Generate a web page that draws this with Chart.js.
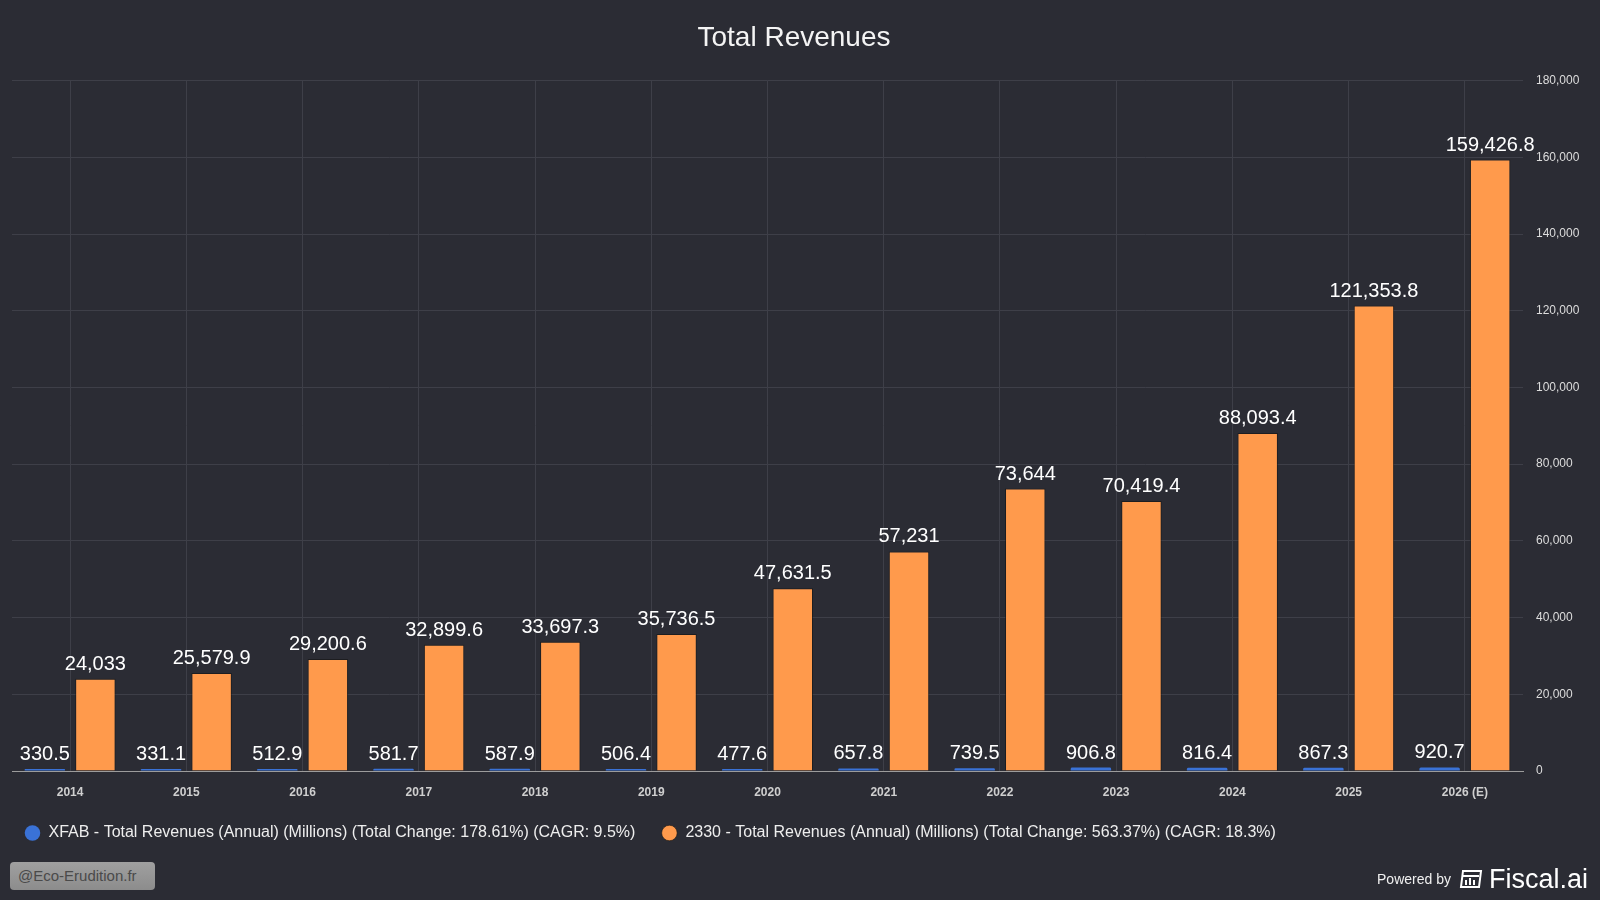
<!DOCTYPE html>
<html>
<head>
<meta charset="utf-8">
<script src="https://cdn.jsdelivr.net/npm/chart.js@4.4.1/dist/chart.umd.min.js"></script>
<style>
  html, body { margin: 0; padding: 0; background: #2b2c34; }
  #wrap { position: relative; width: 1600px; height: 900px; overflow: hidden; background: #2b2c34; font-family: "Liberation Sans", Arial, sans-serif; }
  #c { position: absolute; left: 0; top: 0; }
  #wm { position: absolute; left: 10px; top: 862px; width: 145px; height: 28px; border-radius: 4px;
        background: linear-gradient(#a0a0a0, #8c8c8c); color: #4a4a4a; font-size: 15px; line-height: 28px;
        padding-left: 8px; box-sizing: border-box; }
  #pw { position: absolute; right: 12px; top: 862px; height: 34px; display: flex; align-items: center; color: #f0f0f0; }
  #pw .p { font-size: 14px; margin-right: 8px; }
  #pw .f { font-size: 27px; color: #fff; margin-left: 6px; }
</style>
</head>
<body>
<div id="wrap">
  <canvas id="c" width="1600" height="900"></canvas>
  <div id="wm">@Eco-Erudition.fr</div>
  <div id="pw"><span class="p">Powered by</span>
    <svg width="24" height="20" viewBox="0 0 24 20"><path d="M4 2 H22 L20 18 H2 Z" fill="none" stroke="#fff" stroke-width="2"/><path d="M4 7 H20" stroke="#fff" stroke-width="2"/><path d="M7 11 V16 M11 9 V16 M15 11 V16" stroke="#fff" stroke-width="2"/></svg>
    <span class="f">Fiscal.ai</span></div>
</div>
<script>
const categories = ["2014","2015","2016","2017","2018","2019","2020","2021","2022","2023","2024","2025","2026 (E)"];
const xfabValues = [330.5, 331.1, 512.9, 581.7, 587.9, 506.4, 477.6, 657.8, 739.5, 906.8, 816.4, 867.3, 920.7];
const tsmcValues = [24033, 25579.9, 29200.6, 32899.6, 33697.3, 35736.5, 47631.5, 57231, 73644, 70419.4, 88093.4, 121353.8, 159426.8];
const seriesNames = [
  "XFAB - Total Revenues (Annual) (Millions) (Total Change: 178.61%) (CAGR: 9.5%)",
  "2330 - Total Revenues (Annual) (Millions) (Total Change: 563.37%) (CAGR: 18.3%)"
];
const yMin = 0, yMax = 180000, yStep = 20000;

const FONT = "'Liberation Sans', Arial, sans-serif";
const fmt = v => v.toLocaleString('en-US', {maximumFractionDigits: 1});

const valueLabels = {
  id: 'valueLabels',
  afterDatasetsDraw(chart) {
    const ctx = chart.ctx;
    ctx.save();
    ctx.font = "20px " + FONT;
    ctx.fillStyle = '#ffffff';
    ctx.textAlign = 'center';
    ctx.textBaseline = 'alphabetic';
    chart.data.datasets.forEach((ds, di) => {
      const meta = chart.getDatasetMeta(di);
      meta.data.forEach((el, i) => {
        ctx.fillText(fmt(ds.data[i]), el.x, el.y - 9);
      });
    });
    ctx.restore();
  }
};

// legend sits closer to the left edge; title is centred slightly left of the canvas centre
const boxShift = {
  id: 'boxShift',
  afterLayout(chart) {
    if (chart.legend) { chart.legend.left -= 13.5; chart.legend.right -= 13.5; }
    if (chart.titleBlock) { chart.titleBlock.left -= 12; chart.titleBlock.right -= 12; }
  }
};

new Chart(document.getElementById('c'), {
  type: 'bar',
  data: {
    labels: categories,
    datasets: [
      { label: seriesNames[0], data: xfabValues, backgroundColor: '#3a72d6', borderWidth: 0,
        borderRadius: {topLeft: 2, topRight: 2}, minBarLength: 2,
        categoryPercentage: 0.87, barPercentage: 0.8 },
      { label: seriesNames[1], data: tsmcValues, backgroundColor: '#ff9a4c', borderColor: 'rgba(20,20,20,0.6)', borderWidth: 1,
        categoryPercentage: 0.87, barPercentage: 0.8 }
    ]
  },
  options: {
    responsive: false,
    animation: false,
    devicePixelRatio: 1,
    layout: { padding: { left: 12, right: 0, top: 0, bottom: 49 } },
    plugins: {
      title: { display: true, text: 'Total Revenues', color: '#f4f4f4',
        font: { size: 28, family: FONT, weight: 'normal' }, padding: { top: 21, bottom: 26 } },
      legend: { position: 'bottom', align: 'start',
        labels: { usePointStyle: true, pointStyle: 'circle', boxWidth: 16, boxHeight: 11,
          color: '#eeeeee', font: { size: 16, family: FONT }, padding: 26 } },
      tooltip: { enabled: false }
    },
    scales: {
      x: {
        grid: { color: '#3e3f48', offset: false, drawTicks: false },
        border: { color: '#9c9c9c', width: 1 },
        ticks: { color: '#cfcfcf', font: { size: 12, family: FONT, weight: 'bold' }, padding: 14 },
        afterFit(s) { s.height = 28; }
      },
      y: {
        position: 'right', min: yMin, max: yMax,
        grid: { color: '#3e3f48', drawTicks: false },
        border: { display: false },
        ticks: { stepSize: yStep, color: '#dddddd', font: { size: 12, family: FONT }, padding: 13 },
        afterFit(s) { s.width = 77; }
      }
    }
  },
  plugins: [valueLabels, boxShift]
});
</script>
</body>
</html>
